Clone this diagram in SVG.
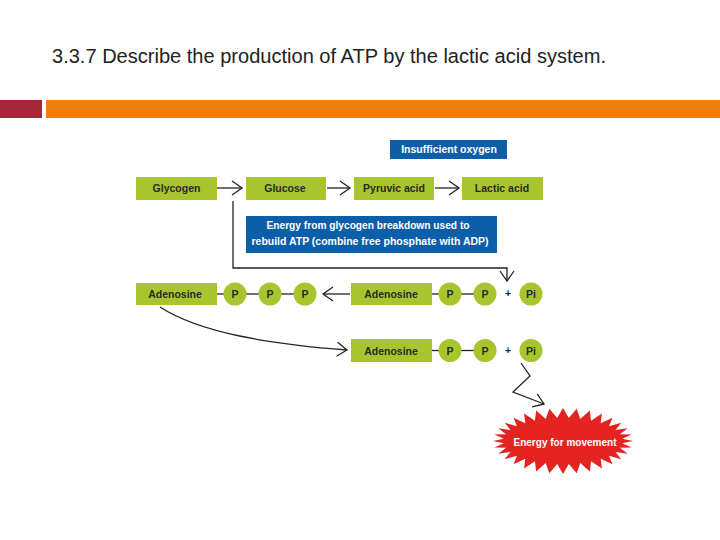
<svg xmlns="http://www.w3.org/2000/svg" width="720" height="540" viewBox="0 0 720 540">
<style>
.g{fill:#a8c52e}
.b{fill:#0d5ea8}
.t{font-family:"Liberation Sans",Arial,sans-serif;font-weight:bold;font-size:10.5px;fill:#2a2a2a;text-anchor:middle}
.w{font-family:"Liberation Sans",Arial,sans-serif;font-weight:bold;font-size:10.5px;fill:#fff;text-anchor:middle}
.c{stroke:#222;stroke-width:1.3;fill:none}
</style>
<defs>
<marker id="ah" markerUnits="userSpaceOnUse" markerWidth="14" markerHeight="18" refX="10" refY="7" orient="auto" overflow="visible">
<path d="M0,0 L10,7 L0,14" fill="none" stroke="#222" stroke-width="1.3"/>
</marker>
</defs>
<rect width="720" height="540" fill="#fff"/>
<text x="52" y="63" font-family="Liberation Sans,Arial,sans-serif" font-size="19.5" fill="#222" textLength="554" lengthAdjust="spacingAndGlyphs">3.3.7 Describe the production of ATP by the lactic acid system.</text>
<rect x="0" y="100" width="42" height="18" fill="#a5283a"/>
<rect x="46" y="100" width="674" height="18" fill="#ee7f0d"/>

<g id="connectors">
<line class="c" x1="217" y1="188" x2="242" y2="188" marker-end="url(#ah)"/>
<line class="c" x1="327" y1="188" x2="350" y2="188" marker-end="url(#ah)"/>
<line class="c" x1="435" y1="188" x2="459" y2="188" marker-end="url(#ah)"/>
<polyline class="c" points="233,201 233,268 507,268 507,281" marker-end="url(#ah)"/>
<line class="c" x1="350" y1="294" x2="323" y2="294" marker-end="url(#ah)"/>
<path class="c" d="M160,307 C200,333 270,344 347,350" marker-end="url(#ah)"/>
<polyline class="c" points="521,363 530,376 513,392 544,404" marker-end="url(#ah)"/>
<line class="c" x1="217" y1="294" x2="224" y2="294"/>
<line class="c" x1="246" y1="294" x2="259" y2="294"/>
<line class="c" x1="281" y1="294" x2="294" y2="294"/>
<line class="c" x1="432" y1="294" x2="439" y2="294"/>
<line class="c" x1="461" y1="294" x2="474" y2="294"/>
<line class="c" x1="432" y1="350.5" x2="439" y2="350.5"/>
<line class="c" x1="461" y1="350.5" x2="474" y2="350.5"/>
</g>

<g id="insufficient-oxygen">
<rect class="b" x="390" y="140" width="117" height="19"/>
<text class="w" x="449" y="153">Insufficient oxygen</text>
</g>
<g id="glycogen">
<rect class="g" x="136" y="177" width="81" height="23"/>
<text class="t" x="176.5" y="192">Glycogen</text>
</g>
<g id="glucose">
<rect class="g" x="246" y="177" width="80" height="23"/>
<text class="t" x="285" y="192">Glucose</text>
</g>
<g id="pyruvic-acid">
<rect class="g" x="354" y="177" width="80" height="23"/>
<text class="t" x="394" y="192">Pyruvic acid</text>
</g>
<g id="lactic-acid">
<rect class="g" x="462" y="177" width="81" height="23"/>
<text class="t" x="502" y="192">Lactic acid</text>
</g>
<g id="energy-note">
<rect class="b" x="246" y="216" width="251" height="37"/>
<text class="w" x="368" y="229" textLength="203" lengthAdjust="spacingAndGlyphs">Energy from glycogen breakdown used to</text>
<text class="w" x="370" y="245" textLength="237" lengthAdjust="spacingAndGlyphs">rebuild ATP (combine free phosphate with ADP)</text>
</g>

<g id="atp">
<rect class="g" x="136" y="283" width="81" height="22"/>
<text class="t" x="175" y="298">Adenosine</text>
<circle class="g" cx="235" cy="294" r="11.5"/>
<text class="t" x="235" y="298">P</text>
<circle class="g" cx="270" cy="294" r="11.5"/>
<text class="t" x="270" y="298">P</text>
<circle class="g" cx="305" cy="294" r="11.5"/>
<text class="t" x="305" y="298">P</text>
</g>
<g id="adp-pi-1">
<rect class="g" x="351" y="283" width="81" height="22"/>
<text class="t" x="391" y="298">Adenosine</text>
<circle class="g" cx="450" cy="294" r="11.5"/>
<text class="t" x="450" y="298">P</text>
<circle class="g" cx="485" cy="294" r="11.5"/>
<text class="t" x="485" y="298">P</text>
<text class="t" x="508" y="297" font-size="9">+</text>
<circle class="g" cx="531" cy="294" r="11.5"/>
<text class="t" x="531" y="298">Pi</text>
</g>
<g id="adp-pi-2">
<rect class="g" x="351" y="339" width="81" height="23"/>
<text class="t" x="391" y="355">Adenosine</text>
<circle class="g" cx="450" cy="350.5" r="11.5"/>
<text class="t" x="450" y="354.5">P</text>
<circle class="g" cx="485" cy="350.5" r="11.5"/>
<text class="t" x="485" y="354.5">P</text>
<text class="t" x="508" y="353.5" font-size="9">+</text>
<circle class="g" cx="531" cy="350.5" r="11.5"/>
<text class="t" x="531" y="354.5">Pi</text>
</g>
<g id="energy-for-movement">
<polygon fill="#e52421" transform="translate(563,441) scale(0.7,0.33)" points="100,0 84.6,6.9 98.1,19.5 81.3,20.3 92.4,38.3 75,33 83.2,55.6 65.7,44.4 70.7,70.7 53.9,54.1 55.6,83.2 40.1,61.7 38.3,92.4 24.7,67 19.5,98.1 8.3,69.7 0,100 -8.3,69.7 -19.5,98.1 -24.7,67 -38.3,92.4 -40.1,61.7 -55.6,83.2 -53.9,54.1 -70.7,70.7 -65.7,44.4 -83.2,55.6 -75,33 -92.4,38.3 -81.3,20.3 -98.1,19.5 -84.6,6.9 -100,0 -84.6,-6.9 -98.1,-19.5 -81.3,-20.3 -92.4,-38.3 -75,-33 -83.2,-55.6 -65.7,-44.4 -70.7,-70.7 -53.9,-54.1 -55.6,-83.2 -40.1,-61.7 -38.3,-92.4 -24.7,-67 -19.5,-98.1 -8.3,-69.7 0,-100 8.3,-69.7 19.5,-98.1 24.7,-67 38.3,-92.4 40.1,-61.7 55.6,-83.2 53.9,-54.1 70.7,-70.7 65.7,-44.4 83.2,-55.6 75,-33 92.4,-38.3 81.3,-20.3 98.1,-19.5 84.6,-6.9"/>
<text class="w" x="565" y="446" textLength="103" lengthAdjust="spacingAndGlyphs">Energy for movement</text>
</g>
</svg>
